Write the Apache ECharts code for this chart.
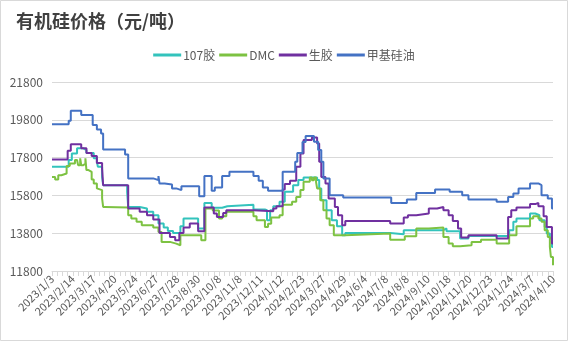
<!DOCTYPE html>
<html><head><meta charset="utf-8">
<script src="https://cdn.jsdelivr.net/npm/echarts@6/dist/echarts.min.js"></script>
<style>html,body{margin:0;padding:0;background:#fff}#c{width:568px;height:342px}</style>
</head><body><div id="c"></div>
<script>
const tickLabels = ['2023/1/3','2023/2/14','2023/3/17','2023/4/20','2023/5/24','2023/6/27','2023/7/28','2023/8/30','2023/10/8','2023/11/8','2023/12/11','2024/1/12','2024/2/23','2024/3/27','2024/4/29','2024/6/4','2024/7/8','2024/8/8','2024/9/10','2024/10/18','2024/11/20','2024/12/23','2024/1/24','2024/3/7','2024/4/10'];
const seriesNames = ['107胶','DMC','生胶','甲基硅油'];
const yTicks = [11800,13800,15800,17800,19800,21800];

// change points: category index where a price level starts, and the price
const g107Idx = [0,16,19,24,30,33,40,43,44,48,49,72,73,84,91,97,102,107,111,116,123,126,140,146,153,163,168,193,204,206,209,212,218,223,231,236,241,254,256,258,263,268,273,278,281,324,337,375,378,391,399,438,442,445,458,463,467,472,474,477,479,480];
const g107Val = [17310,17670,18020,18290,18200,18050,17760,17580,17310,16780,16340,15990,15190,15110,14930,14750,14310,14100,13920,13810,14170,14580,14050,15400,15150,15230,15300,15060,15020,14490,15020,15230,15460,15990,16340,16610,16750,16610,16170,15550,15020,14490,14170,13690,13810,13750,13960,14050,13900,13520,13650,13960,14400,14580,14840,14750,14490,14130,13780,13520,13070,13070];

const dmcIdx = [0,3,6,9,14,17,22,24,25,27,28,30,32,33,35,38,40,43,44,48,49,51,73,76,81,86,97,102,105,113,119,123,143,147,154,160,163,167,193,196,204,207,210,218,221,230,234,238,241,247,249,251,253,254,257,260,263,266,270,281,324,338,349,361,375,380,384,391,402,411,426,438,445,458,461,466,469,472,475,477,478,480];
const dmcVal = [16780,16640,16870,16960,17350,17490,17670,17760,17400,17760,17400,17490,17760,17140,17050,16640,16430,16170,16080,15640,15190,15160,14750,14580,14400,14220,14100,13870,13340,13250,13160,13690,13430,15110,15000,14580,14700,14930,14700,14490,14130,14300,14630,14750,15300,15460,15720,16080,16520,16750,16600,16750,16500,16170,15550,15020,14580,14220,13690,13780,13460,13640,14050,14100,13600,13250,13110,13160,13340,13460,13250,13690,14170,14580,14700,14580,14400,13960,13600,13070,12540,12100];

const rubberIdx = [0,15,18,28,33,38,43,48,49,73,84,91,97,103,113,118,122,126,132,140,146,155,158,164,167,193,212,215,221,223,228,234,238,241,249,254,256,258,262,265,271,274,278,281,324,337,341,349,361,369,375,380,384,389,392,399,426,437,440,445,458,463,466,471,474,479,480];
const rubberVal = [17700,18160,18500,18290,18050,17880,17520,17230,16340,15110,14930,14750,14520,13810,13600,13430,13810,14100,14310,13900,15160,14840,14660,14870,15020,14960,15110,15230,16110,16400,16570,17310,18020,18730,18870,18550,17580,16780,16430,15640,15190,14750,14220,14450,14310,14630,14750,14840,15110,15190,15020,14750,14450,14050,13570,13690,13520,14660,15020,15160,15340,15400,15230,14700,14130,13250,13250];

const oilIdx = [0,16,18,28,39,43,47,49,70,73,97,102,103,108,115,119,124,141,146,153,156,163,170,193,198,202,207,221,233,235,240,243,251,255,258,260,266,279,325,340,349,367,381,393,399,426,437,442,447,458,466,469,475,479,480];
const oilVal = [19560,19750,20280,20050,19520,19290,19080,18230,17970,16700,16610,16820,16430,16380,16170,16080,16290,15760,16820,16040,16220,16820,17050,16820,16570,16220,16040,17050,17580,18040,18620,18940,18640,18200,17580,16700,15810,15690,15400,15580,15930,16110,15990,15810,15580,15460,15720,15900,16170,16430,16340,15810,15640,15110,15110];

const colors = ['#33C3BC','#7DC242','#7030A0','#4472C4'];
const LABEL_STEP = 20;
const categories = [];
for (let i = 0; i <= (tickLabels.length - 1) * LABEL_STEP; i++) {
  categories.push(i % LABEL_STEP === 0 ? tickLabels[i / LABEL_STEP] : '');
}
const pairs = (ix, vs) => ix.map((x, k) => [x, vs[k]]);
const seriesData = [pairs(g107Idx, g107Val), pairs(dmcIdx, dmcVal), pairs(rubberIdx, rubberVal), pairs(oilIdx, oilVal)];

const font = '"Microsoft YaHei","Noto Sans CJK SC",sans-serif';
const chart = echarts.init(document.getElementById('c'), null, {renderer: 'canvas'});
chart.setOption({
  animation: false,
  backgroundColor: '#fff',
  color: colors,
  graphic: [{type: 'rect', shape: {x: 0.5, y: 0.5, width: 567, height: 340}, style: {fill: 'none', stroke: '#d9d9d9', lineWidth: 1}, silent: true}],
  title: {text: '有机硅价格（元/吨）', left: 11, top: 7, textStyle: {fontFamily: '"Noto Sans CJK SC",sans-serif', fontSize: 18, fontWeight: 'bold', color: '#404040'}},
  legend: {top: 44, left: 'center', itemWidth: 28, itemHeight: 3, itemGap: 4, icon: 'rect',
    textStyle: {fontFamily: font, fontSize: 12, color: '#595959', padding: [0, 0, 0, -3]}, data: seriesNames},
  grid: {left: 52, right: 15, top: 82, bottom: 71},
  xAxis: {type: 'category', data: categories, boundaryGap: false,
    axisLine: {lineStyle: {color: '#d9d9d9'}},
    axisTick: {interval: 4, length: 5, lineStyle: {color: '#d9d9d9'}},
    axisLabel: {interval: LABEL_STEP - 1, rotate: 45, fontFamily: font, fontSize: 11, color: '#595959', margin: 6}},
  yAxis: {type: 'value', min: yTicks[0], max: yTicks[yTicks.length - 1], interval: 2000,
    axisLine: {show: false}, axisTick: {show: false},
    axisLabel: {fontFamily: font, fontSize: 12, color: '#595959', margin: 9, formatter: v => String(v)},
    splitLine: {lineStyle: {color: '#d9d9d9', width: 1}}},
  series: seriesNames.map((n, i) => ({
    name: n, type: 'line', step: 'end', data: seriesData[i], symbol: 'none',
    lineStyle: {width: 2, color: colors[i]}, itemStyle: {color: colors[i]}
  }))
});
</script></body></html>
